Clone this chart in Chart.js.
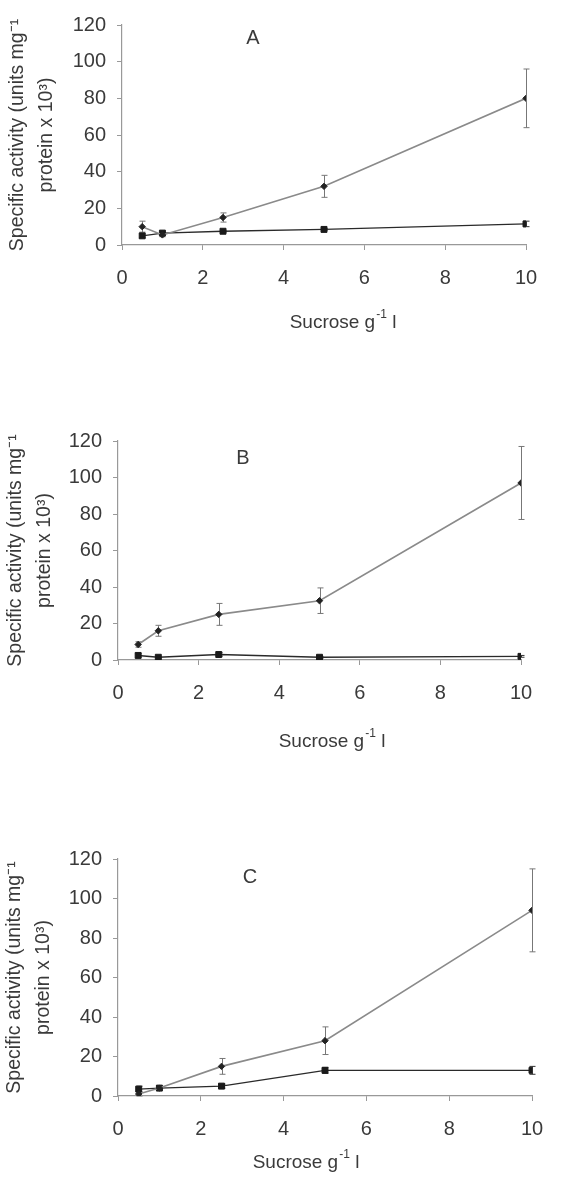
<!DOCTYPE html>
<html><head><meta charset="utf-8">
<script src="https://cdn.jsdelivr.net/npm/chart.js@4.4.1/dist/chart.umd.min.js"></script>
<style>
html,body{margin:0;padding:0;background:#fff;width:565px;height:1177px;overflow:hidden}
.p{position:absolute;left:0;width:565px}
canvas{display:block}
</style></head><body>
<div class="p" style="top:0px"><canvas id="cA" width="565" height="380"></canvas></div>
<div class="p" style="top:400px"><canvas id="cB" width="565" height="390"></canvas></div>
<div class="p" style="top:800px"><canvas id="cC" width="565" height="377"></canvas></div>
<script>
// ---- data ----
const sucrose = [0.5, 1, 2.5, 5, 10];
const xTickValues = [0, 2, 4, 6, 8, 10];
const yTickValues = [0, 20, 40, 60, 80, 100, 120];
const panelLetters = ['A', 'B', 'C'];
const xTitleParts = ['Sucrose g', '-1', ' l'];
const yTitleLines = ['Specific activity (units mg\u207B\u00B9', 'protein x 10\u00B3)'];

const aUpper = [10, 5.5, 15, 32, 80];
const aUpperErr = [3, 1, 2.5, 6, 16];
const aLower = [5, 6.5, 7.5, 8.5, 11.5];
const aLowerErr = [1, 1, 0.5, 0.5, 1.5];

const bUpper = [8.5, 16, 25, 32.5, 97];
const bUpperErr = [1.5, 3, 6, 7, 20];
const bLower = [2.5, 1.5, 3, 1.5, 2];
const bLowerErr = [1, 0.5, 1, 0.5, 0.5];

const cUpper = [1, 4, 15, 28, 94];
const cUpperErr = [1, 1, 4, 7, 21];
const cLower = [3.5, 4, 5, 13, 13];
const cLowerErr = [1.5, 1, 1, 1.5, 2];

// ---- plugins ----
const FONT = '"Liberation Sans", Arial, Helvetica, sans-serif';
const TXT = '#3a3a3a';
const errorBars = {
  id: 'errorBars',
  beforeDatasetsDraw(chart) {
    const {ctx, scales: {x, y}} = chart;
    chart.data.datasets.forEach(ds => {
      if (!ds.errors) return;
      ctx.save();
      ctx.strokeStyle = ds.errorColor || '#777';
      ctx.lineWidth = 1;
      ds.data.forEach((pt, j) => {
        const e = ds.errors[j];
        if (!e) return;
        const px = Math.round(x.getPixelForValue(pt.x)) + 0.5;
        const t = y.getPixelForValue(pt.y + e), b = y.getPixelForValue(pt.y - e);
        ctx.beginPath();
        ctx.moveTo(px, t); ctx.lineTo(px, b);
        ctx.moveTo(px - 3, t); ctx.lineTo(px + 3, t);
        ctx.moveTo(px - 3, b); ctx.lineTo(px + 3, b);
        ctx.stroke();
      });
      ctx.restore();
    });
  }
};
const panelText = {
  id: 'panelText',
  afterDraw(chart, args, o) {
    const ctx = chart.ctx;
    ctx.save();
    ctx.fillStyle = TXT;
    ctx.textBaseline = 'middle';
    ctx.textAlign = 'center';
    ctx.font = '20px ' + FONT;
    ctx.fillText(o.letter, o.letterX, o.letterY);
    // x title with superscript
    const big = '19px ' + FONT, small = '12px ' + FONT;
    ctx.textAlign = 'left';
    ctx.font = big; const w0 = ctx.measureText(xTitleParts[0]).width;
    ctx.font = small; const w1 = ctx.measureText(xTitleParts[1]).width + 1;
    ctx.font = big; const w2 = ctx.measureText(xTitleParts[2]).width;
    let sx = o.xTitleX - (w0 + w1 + w2) / 2;
    ctx.font = big; ctx.fillText(xTitleParts[0], sx, o.xTitleY);
    ctx.font = small; ctx.fillText(xTitleParts[1], sx + w0 + 1, o.xTitleY - 8);
    ctx.font = big; ctx.fillText(xTitleParts[2], sx + w0 + w1, o.xTitleY);
    ctx.restore();
  }
};

function makeChart(id, upper, upperErr, lower, lowerErr, g) {
  const canvas = document.getElementById(id);
  const H = canvas.height;
  return new Chart(canvas, {
    type: 'line',
    data: {
      datasets: [
        {
          data: sucrose.map((s, i) => ({x: s, y: upper[i]})),
          errors: upperErr, errorColor: '#777',
          borderColor: '#8a8a8a', borderWidth: 1.6,
          pointStyle: 'rectRot', pointRadius: 3.2, pointBackgroundColor: '#222', pointBorderColor: '#222', pointBorderWidth: 1,
          tension: 0
        },
        {
          data: sucrose.map((s, i) => ({x: s, y: lower[i]})),
          errors: lowerErr, errorColor: '#333',
          borderColor: '#2a2a2a', borderWidth: 1.4,
          pointStyle: 'rect', pointRadius: 4.2, pointBackgroundColor: '#1a1a1a', pointBorderColor: '#1a1a1a', pointBorderWidth: 1,
          tension: 0
        }
      ]
    },
    options: {
      responsive: false, animation: false, devicePixelRatio: 1,
      layout: {padding: {top: g.top, right: 565 - g.right, left: 0, bottom: 0}},
      plugins: {
        legend: {display: false}, tooltip: {enabled: false},
        panelText: {letter: g.letter, letterX: g.letterX, letterY: g.letterY, xTitleX: g.xTitleX, xTitleY: g.xTitleY}
      },
      scales: {
        x: {
          type: 'linear', min: 0, max: 10,
          afterFit: s => { s.height = H - g.bottom; },
          afterBuildTicks: s => { s.ticks = xTickValues.map(v => ({value: v})); },
          grid: {drawOnChartArea: false, tickLength: 5, color: '#999', tickColor: '#999'},
          border: {color: '#999', width: 1.2},
          ticks: {color: TXT, font: {size: 20, family: FONT}, padding: 16, maxRotation: 0}
        },
        y: {
          min: 0, max: 120,
          afterFit: s => { s.width = g.left; },
          afterBuildTicks: s => { s.ticks = yTickValues.map(v => ({value: v})); },
          grid: {drawOnChartArea: false, tickLength: 5, color: '#999', tickColor: '#999'},
          border: {color: '#999', width: 1.2},
          ticks: {color: TXT, font: {size: 20, family: FONT}, padding: 11},
          title: {display: true, text: yTitleLines, color: TXT, font: {size: 19.5, family: FONT, lineHeight: 1.5}, padding: {top: g.yTitlePad, bottom: 0}}
        }
      }
    },
    plugins: [errorBars, panelText]
  });
}

makeChart('cA', aUpper, aUpperErr, aLower, aLowerErr,
  {top: 25, bottom: 245, left: 122, right: 526, letter: panelLetters[0], letterX: 253, letterY: 38, xTitleX: 343, xTitleY: 323, yTitlePad: 3});
makeChart('cB', bUpper, bUpperErr, bLower, bLowerErr,
  {top: 41, bottom: 260, left: 118, right: 521, letter: panelLetters[1], letterX: 243, letterY: 58, xTitleX: 332, xTitleY: 342, yTitlePad: 1});
makeChart('cC', cUpper, cUpperErr, cLower, cLowerErr,
  {top: 59, bottom: 296, left: 118, right: 532, letter: panelLetters[2], letterX: 250, letterY: 77, xTitleX: 306, xTitleY: 363, yTitlePad: 0});
</script>
</body></html>
